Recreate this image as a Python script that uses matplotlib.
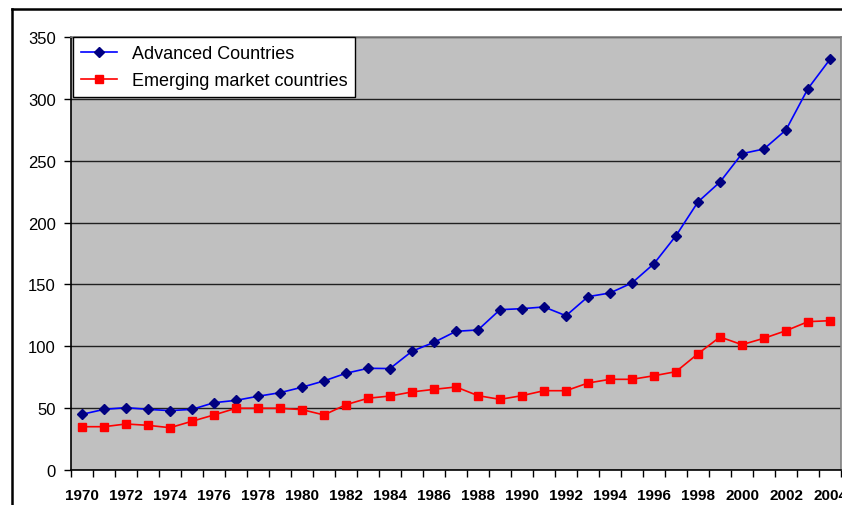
import matplotlib.pyplot as plt
from matplotlib.lines import Line2D

plt.rcParams['font.family'] = ['Liberation Sans', 'DejaVu Sans']

years = list(range(1970, 2005))
advanced = [45, 49, 50.4, 49, 48, 49, 54.4, 56.3, 59.6, 62.5, 66.9, 72, 78.2, 82.2, 82,
            96, 103.2, 112.1, 113.2, 129.6, 130.4, 131.8, 124.7, 140.1, 143.1, 151.2,
            166.8, 189.4, 216.7, 232.8, 255.7, 259.5, 274.9, 308.3, 332]
emerging = [35, 35, 37.2, 36.1, 34.2, 39.4, 44.5, 49.9, 49.9, 49.9, 48.8, 44.5, 52.8,
            58, 59.8, 63.1, 65.2, 67.1, 60.1, 57.1, 60.1, 64.1, 64.1, 70.3, 73.3, 73.3,
            76.2, 79.5, 94, 107.5, 101.3, 106.5, 112.6, 119.9, 120.7]

W, H = 842, 506
fig = plt.figure(figsize=(W / 100, H / 100), dpi=100)
ax = fig.add_axes([71 / W, 1 - 471 / H, 770 / W, 433 / H])
ax.set_facecolor('#c0c0c0')

x = list(range(len(years)))
ax.plot(x, advanced, color='#0000ff', lw=1.2, marker='D', markersize=5.5,
        markerfacecolor='#000080', markeredgecolor='#000080', label='Advanced Countries')
ax.plot(x, emerging, color='#ff0000', lw=1.2, marker='s', markersize=6,
        markerfacecolor='#ff0000', markeredgecolor='#ff0000', label='Emerging market countries')

ax.set_xlim(-0.5, len(years) - 0.5)
ax.set_ylim(0, 350)
ax.set_yticks(range(0, 351, 50))
ax.yaxis.grid(True, color='#202020', lw=1)
ax.set_axisbelow(True)

ax.set_xticks(x[::2])
ax.set_xticklabels([str(y) for y in years[::2]], fontweight='bold', fontsize=11)
ax.set_xticks([i - 0.5 for i in range(len(years) + 1)], minor=True)
ax.tick_params(axis='x', which='major', length=0, pad=13)
ax.tick_params(axis='x', which='minor', length=5, width=1, direction='out')
ax.tick_params(axis='y', length=5, width=1, pad=6, labelsize=12)

ax.spines['left'].set_color('black')
ax.spines['bottom'].set_color('black')
ax.spines['top'].set_color('#808080')
ax.spines['right'].set_color('#808080')
for s in ax.spines.values():
    s.set_linewidth(1.2)

leg = ax.legend(loc='upper left', bbox_to_anchor=(2 / 770, 1.0), borderaxespad=0,
                fontsize=13, fancybox=False, framealpha=1, edgecolor='black',
                handlelength=2.0, borderpad=0.45, labelspacing=0.55)
leg.get_frame().set_linewidth(1)

# outer chart border
fig.add_artist(Line2D([12 / W, 1], [1 - 10 / H, 1 - 10 / H], color='black', lw=1.8))
fig.add_artist(Line2D([12 / W, 12 / W], [0, 1 - 10 / H], color='black', lw=1.8))

fig.savefig('out.png', dpi=100)
